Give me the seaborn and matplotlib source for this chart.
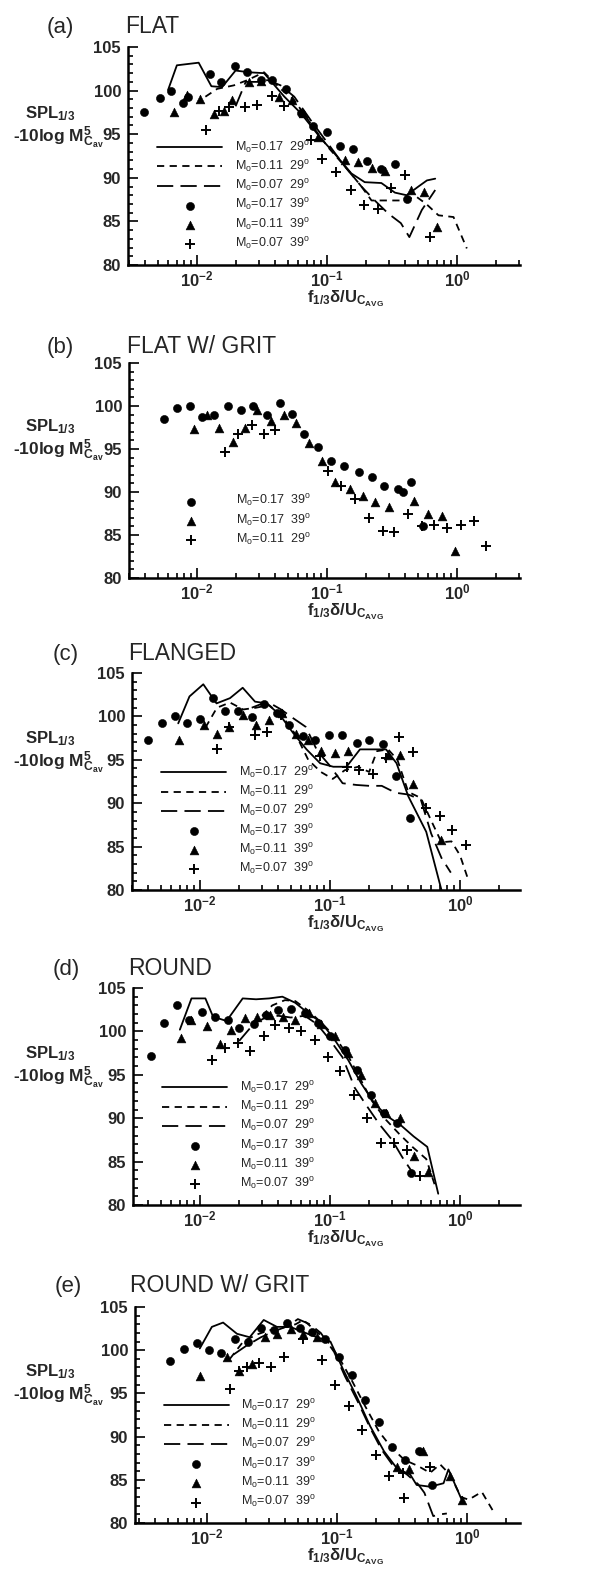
import matplotlib
matplotlib.use("Agg")
import matplotlib.pyplot as plt
import seaborn as sns
from matplotlib.ticker import LogLocator, MultipleLocator, NullFormatter

# ---- values ----
# (a) FLAT
a_solid_x = [0.0060, 0.0070, 0.0103, 0.0129, 0.0156, 0.0198, 0.0251, 0.0328, 0.047, 0.063, 0.090, 0.114, 0.154, 0.195, 0.262, 0.333, 0.41, 0.505, 0.587, 0.68]
a_solid_y = [100.1, 102.9, 103.2, 100.5, 100.4, 102.3, 102.1, 102.0, 99.3, 97.4, 94.5, 92.8, 90.5, 89.5, 89.4, 88.3, 88.0, 89.0, 89.7, 89.9]
a_short_x = [0.0116, 0.0143, 0.0192, 0.0244, 0.0328, 0.044, 0.056, 0.075, 0.102, 0.145, 0.184, 0.22, 0.296, 0.37, 0.49, 0.58, 0.72, 0.94, 1.19]
a_short_y = [99.3, 100.2, 100.6, 101.2, 102.1, 100.2, 98.9, 96.2, 93.5, 90.9, 89.0, 87.4, 87.4, 87.4, 87.8, 87.0, 85.7, 85.5, 81.9]
a_long_x = [0.0198, 0.0237, 0.029, 0.035, 0.044, 0.056, 0.075, 0.102, 0.137, 0.184, 0.233, 0.296, 0.37, 0.43, 0.536, 0.68]
a_long_y = [98.2, 101.0, 101.0, 101.2, 100.6, 99.3, 96.6, 93.9, 91.3, 89.0, 87.4, 85.9, 84.8, 83.2, 86.3, 88.6]
a_circ_x = [0.0039, 0.0052, 0.0063, 0.0078, 0.0086, 0.0125, 0.0153, 0.0196, 0.0244, 0.031, 0.038, 0.048, 0.063, 0.078, 0.1, 0.125, 0.159, 0.204, 0.262, 0.333, 0.41]
a_circ_y = [97.6, 99.2, 100.0, 98.6, 99.3, 101.9, 101.0, 102.8, 102.1, 101.2, 101.2, 100.2, 97.4, 95.9, 95.3, 93.7, 93.3, 91.9, 91.0, 91.6, 87.6]
a_tri_x = [0.0067, 0.0084, 0.0106, 0.0135, 0.0161, 0.0187, 0.0250, 0.0309, 0.043, 0.054, 0.065, 0.085, 0.137, 0.172, 0.22, 0.278, 0.445, 0.56, 0.70]
a_tri_y = [97.6, 99.5, 99.0, 97.3, 97.7, 98.9, 101.0, 101.1, 99.3, 98.9, 97.4, 94.7, 92.0, 91.8, 91.1, 90.8, 88.6, 88.4, 84.4]
a_plus_x = [0.0117, 0.0147, 0.0176, 0.0236, 0.029, 0.038, 0.0463, 0.075, 0.091, 0.117, 0.152, 0.192, 0.245, 0.31, 0.40, 0.62]
a_plus_y = [95.5, 97.7, 98.1, 98.1, 98.4, 99.4, 98.2, 94.3, 92.2, 90.7, 88.6, 86.9, 86.4, 88.8, 90.3, 83.2]

# (b) FLAT W/ GRIT
b_circ_x = [0.0056, 0.0070, 0.0088, 0.0109, 0.0136, 0.0173, 0.0217, 0.0272, 0.0344, 0.0435, 0.054, 0.0667, 0.0853, 0.108, 0.136, 0.175, 0.222, 0.276, 0.349, 0.382, 0.442, 0.55]
b_circ_y = [98.5, 99.8, 100.0, 98.7, 98.9, 100.0, 99.5, 100.0, 99.0, 100.3, 99.1, 96.7, 95.2, 93.6, 93.0, 92.3, 91.8, 90.7, 90.3, 90.0, 91.2, 86.1]
b_tri_x = [0.0094, 0.0119, 0.0148, 0.0188, 0.0234, 0.0291, 0.0368, 0.0466, 0.0576, 0.0729, 0.092, 0.116, 0.149, 0.188, 0.235, 0.30, 0.47, 0.60, 0.76, 0.96]
b_tri_y = [97.3, 98.9, 97.4, 95.8, 97.5, 99.5, 98.3, 99.0, 98.0, 95.7, 93.6, 91.2, 90.3, 89.5, 88.8, 88.3, 88.9, 87.5, 87.2, 83.1]
b_plus_x = [0.0165, 0.0205, 0.0264, 0.033, 0.040, 0.101, 0.128, 0.165, 0.21, 0.27, 0.33, 0.42, 0.54, 0.66, 0.84, 1.07, 1.34, 1.67]
b_plus_y = [94.7, 96.7, 97.8, 96.8, 97.2, 92.4, 90.7, 89.2, 87.0, 85.5, 85.3, 87.5, 86.0, 86.2, 85.8, 86.2, 86.6, 83.7]

# (c) FLANGED
c_solid_x = [0.0068, 0.0083, 0.0106, 0.0134, 0.0170, 0.0213, 0.0265, 0.0326, 0.041, 0.052, 0.066, 0.084, 0.106, 0.134, 0.17, 0.21, 0.27, 0.325, 0.40, 0.55, 0.72]
c_solid_y = [99.2, 102.3, 103.7, 101.5, 102.1, 103.3, 101.7, 101.5, 100.2, 98.1, 96.2, 94.6, 94.2, 94.2, 96.2, 96.2, 96.2, 94.6, 90.8, 86.7, 80.0]
c_short_x = [0.0110, 0.0135, 0.0170, 0.0215, 0.027, 0.034, 0.043, 0.055, 0.068, 0.085, 0.105, 0.13, 0.165, 0.20, 0.23, 0.28, 0.33, 0.40, 0.50, 0.60, 0.72, 0.86, 1.0, 1.15]
c_short_y = [98.7, 101.0, 101.6, 100.8, 101.0, 101.3, 100.0, 97.8, 95.0, 93.6, 92.8, 93.8, 94.2, 93.6, 96.0, 96.2, 95.0, 91.3, 90.6, 88.0, 85.5, 85.6, 84.0, 81.3]
c_long_x = [0.025, 0.033, 0.042, 0.052, 0.065, 0.08, 0.10, 0.125, 0.16, 0.20, 0.25, 0.32, 0.40, 0.50, 0.60, 0.72, 0.85]
c_long_y = [101.0, 101.7, 100.8, 99.8, 98.8, 96.0, 94.3, 92.3, 92.1, 92.0, 92.0, 91.2, 91.0, 90.4, 86.5, 83.7, 82.0]
c_circ_x = [0.0040, 0.0051, 0.0064, 0.0080, 0.010, 0.0127, 0.0156, 0.0197, 0.0249, 0.0313, 0.039, 0.0487, 0.0616, 0.0767, 0.099, 0.124, 0.160, 0.199, 0.254, 0.322, 0.41]
c_circ_y = [97.3, 99.2, 100.1, 99.2, 99.7, 102.1, 100.6, 100.6, 99.9, 101.4, 100.4, 99.0, 97.7, 97.3, 97.9, 97.9, 96.9, 97.3, 96.8, 93.1, 88.3]
c_tri_x = [0.0069, 0.0107, 0.0134, 0.0168, 0.0213, 0.0270, 0.034, 0.043, 0.055, 0.068, 0.086, 0.109, 0.138, 0.28, 0.345, 0.435, 0.71]
c_tri_y = [97.3, 99.0, 98.0, 98.8, 100.2, 99.0, 99.6, 100.4, 98.0, 97.3, 96.0, 95.8, 96.0, 95.6, 95.6, 92.2, 85.8]
c_plus_x = [0.0134, 0.0168, 0.0265, 0.033, 0.042, 0.084, 0.134, 0.167, 0.214, 0.27, 0.34, 0.435, 0.55, 0.70, 0.87, 1.11]
c_plus_y = [96.2, 98.8, 97.9, 98.2, 100.2, 95.4, 94.2, 93.8, 93.4, 95.2, 97.6, 95.9, 89.4, 88.5, 86.9, 85.2]

# (d) ROUND
d_solid_x = [0.0070, 0.0086, 0.011, 0.0126, 0.016, 0.0213, 0.027, 0.034, 0.043, 0.054, 0.068, 0.086, 0.109, 0.138, 0.174, 0.22, 0.277, 0.35, 0.44, 0.56, 0.68]
d_solid_y = [100.2, 103.8, 103.8, 101.7, 101.2, 103.8, 103.7, 103.8, 104.0, 103.3, 102.1, 101.0, 99.0, 96.7, 94.0, 91.7, 90.2, 89.2, 87.9, 86.7, 81.3]
d_short_x = [0.03, 0.036, 0.045, 0.054, 0.068, 0.086, 0.11, 0.14, 0.17, 0.21, 0.27, 0.34, 0.43, 0.55, 0.65]
d_short_y = [101.8, 103.0, 103.6, 103.5, 102.4, 101.0, 99.3, 97.0, 94.6, 92.0, 89.8, 88.2, 86.7, 85.3, 82.0]
d_long_x = [0.02, 0.026, 0.032, 0.04, 0.05, 0.064, 0.08, 0.10, 0.125, 0.155, 0.19, 0.24, 0.30, 0.36, 0.42]
d_long_y = [98.9, 100.9, 101.6, 101.8, 101.6, 101.8, 100.8, 99.0, 97.0, 93.5, 91.5, 89.3, 87.5, 85.5, 84.0]
d_circ_x = [0.0042, 0.0053, 0.0067, 0.0083, 0.0103, 0.013, 0.0164, 0.020, 0.026, 0.032, 0.040, 0.050, 0.064, 0.081, 0.10, 0.13, 0.162, 0.205, 0.26, 0.33, 0.42]
d_circ_y = [97.2, 101.0, 103.0, 101.3, 102.2, 101.7, 101.3, 100.4, 100.8, 101.9, 102.5, 102.6, 102.1, 101.0, 99.5, 97.9, 95.5, 92.7, 90.6, 89.4, 83.7]
d_tri_x = [0.0072, 0.0085, 0.0114, 0.0142, 0.0174, 0.022, 0.0274, 0.0346, 0.0436, 0.0541, 0.0684, 0.086, 0.109, 0.138, 0.174, 0.22, 0.27, 0.345, 0.44, 0.57]
d_tri_y = [99.2, 101.3, 100.6, 98.5, 100.2, 101.5, 101.7, 101.9, 101.7, 101.3, 102.1, 100.8, 99.5, 97.5, 95.0, 91.7, 90.6, 90.0, 85.6, 83.8]
d_plus_x = [0.0123, 0.0155, 0.0195, 0.0243, 0.0308, 0.038, 0.048, 0.060, 0.076, 0.096, 0.119, 0.153, 0.193, 0.246, 0.31, 0.39, 0.49]
d_plus_y = [96.7, 98.1, 98.7, 97.7, 99.5, 100.7, 100.4, 100.0, 99.0, 97.1, 95.4, 92.7, 90.0, 87.1, 87.1, 86.3, 83.3]

# (e) ROUND W/ GRIT
e_solid_x = [0.0088, 0.0109, 0.0133, 0.0170, 0.0213, 0.0273, 0.0345, 0.0437, 0.055, 0.070, 0.089, 0.112, 0.142, 0.18, 0.23, 0.29, 0.366, 0.41, 0.52, 0.66, 0.72, 0.91]
e_solid_y = [100.2, 102.7, 103.2, 101.9, 101.5, 103.5, 102.7, 102.7, 102.1, 101.5, 101.0, 97.7, 94.6, 91.2, 88.3, 86.3, 85.6, 84.4, 84.2, 84.6, 86.2, 82.7]
e_short_x = [0.015, 0.019, 0.024, 0.030, 0.038, 0.048, 0.055, 0.068, 0.085, 0.105, 0.13, 0.165, 0.21, 0.26, 0.33, 0.42, 0.52, 0.62, 0.74, 0.9, 1.03, 1.3, 1.6]
e_short_y = [99.0, 101.0, 101.8, 102.3, 102.6, 103.0, 103.5, 102.3, 101.0, 99.0, 96.5, 93.5, 90.6, 88.8, 87.3, 86.6, 85.8, 86.8, 85.6, 83.0, 82.7, 83.6, 81.3]
e_long_x = [0.016, 0.020, 0.026, 0.033, 0.042, 0.05, 0.062, 0.075, 0.095, 0.115, 0.145, 0.18, 0.22, 0.28, 0.34, 0.42, 0.47, 0.55, 0.62, 0.70]
e_long_y = [99.5, 100.5, 101.5, 102.2, 102.8, 103.6, 103.0, 102.0, 99.8, 97.0, 94.0, 91.0, 88.5, 86.3, 85.7, 84.5, 83.5, 80.8, 81.0, 81.1]
e_circ_x = [0.0052, 0.0066, 0.0084, 0.0104, 0.0128, 0.0163, 0.0207, 0.026, 0.033, 0.041, 0.052, 0.064, 0.081, 0.103, 0.130, 0.165, 0.21, 0.265, 0.335, 0.43, 0.54]
e_circ_y = [98.7, 100.1, 100.8, 100.0, 99.7, 101.3, 101.0, 102.6, 102.3, 103.2, 102.6, 102.1, 101.3, 99.2, 97.1, 94.2, 91.7, 88.8, 87.3, 88.3, 84.4]
e_tri_x = [0.0089, 0.0142, 0.0175, 0.0222, 0.028, 0.0345, 0.044, 0.055, 0.07, 0.29, 0.36, 0.46, 0.74, 0.92]
e_tri_y = [97.0, 99.2, 97.6, 98.4, 101.5, 101.9, 102.4, 101.9, 101.5, 86.5, 86.2, 88.3, 85.4, 82.7]
e_plus_x = [0.0151, 0.0175, 0.0203, 0.025, 0.031, 0.039, 0.055, 0.077, 0.097, 0.123, 0.156, 0.20, 0.25, 0.32, 0.33, 0.52]
e_plus_y = [95.5, 97.6, 98.1, 98.5, 98.0, 99.2, 101.3, 98.9, 96.0, 93.5, 90.8, 87.9, 85.4, 85.8, 82.9, 86.5]

PANEL_TAGS = ["(a)", "(b)", "(c)", "(d)", "(e)"]
PANEL_NAMES = ["FLAT", "FLAT W/ GRIT", "FLANGED", "ROUND", "ROUND W/ GRIT"]
LABELS_6 = ["M$_o$=0.17  29$^o$", "M$_o$=0.11  29$^o$", "M$_o$=0.07  29$^o$",
            "M$_o$=0.17  39$^o$", "M$_o$=0.11  39$^o$", "M$_o$=0.07  39$^o$"]
LABELS_B = ["M$_o$=0.17  39$^o$", "M$_o$=0.17  39$^o$", "M$_o$=0.11  29$^o$"]

panels = [
    ([(a_solid_x, a_solid_y), (a_short_x, a_short_y), (a_long_x, a_long_y)],
     [(a_circ_x, a_circ_y), (a_tri_x, a_tri_y), (a_plus_x, a_plus_y)], LABELS_6),
    ([], [(b_circ_x, b_circ_y), (b_tri_x, b_tri_y), (b_plus_x, b_plus_y)], LABELS_B),
    ([(c_solid_x, c_solid_y), (c_short_x, c_short_y), (c_long_x, c_long_y)],
     [(c_circ_x, c_circ_y), (c_tri_x, c_tri_y), (c_plus_x, c_plus_y)], LABELS_6),
    ([(d_solid_x, d_solid_y), (d_short_x, d_short_y), (d_long_x, d_long_y)],
     [(d_circ_x, d_circ_y), (d_tri_x, d_tri_y), (d_plus_x, d_plus_y)], LABELS_6),
    ([(e_solid_x, e_solid_y), (e_short_x, e_short_y), (e_long_x, e_long_y)],
     [(e_circ_x, e_circ_y), (e_tri_x, e_tri_y), (e_plus_x, e_plus_y)], LABELS_6),
]

# ---- style ----
sns.set_theme(style="ticks")
plt.rcParams["font.family"] = ["Liberation Sans", "DejaVu Sans"]
plt.rcParams["font.weight"] = "bold"
plt.rcParams["mathtext.fontset"] = "custom"
plt.rcParams["mathtext.rm"] = "Liberation Sans"
plt.rcParams["mathtext.default"] = "regular"

LINE_STYLES = ["-", (0, (4, 3)), (0, (9, 4))]
MARKERS = ["o", "^", "+"]
MARKER_SIZES = [34, 40, 55]

W, H = 596, 1574
ax_left = [128, 129, 132, 133, 135]      # px of the y axis
ax_top = [47, 363, 673, 988, 1307]
ax_bot = [265, 578, 890, 1205, 1523]
dec_m2 = [197, 197, 200, 200, 207]       # px of 10^-2
ax_right = 520
px_dec = 130.0
title_base = [33, 353, 660, 975, 1292]
tag_x = [47, 47, 53, 53, 55]
name_x = [125, 127, 128, 128, 130]
leg_y = [0.06, 0.14, 0.06, 0.06, 0.06]

fig = plt.figure(figsize=(W / 100, H / 100), dpi=100)

for i, (lines, marks, labels) in enumerate(panels):
    l, t, b = ax_left[i], ax_top[i], ax_bot[i]
    wpx, hpx = ax_right - l, b - t
    ax = fig.add_axes([l / W, 1 - b / H, wpx / W, hpx / H])

    for (x, y), ls, lab in zip(lines, LINE_STYLES, labels[:3]):
        sns.lineplot(x=x, y=y, ax=ax, color="black", lw=1.3, linestyle=ls,
                     sort=False, estimator=None, label=lab)
    mark_labels = labels[3:] if lines else labels
    for (x, y), mk, sz, lab in zip(marks, MARKERS, MARKER_SIZES, mark_labels):
        if mk == "+":
            sns.scatterplot(x=x, y=y, ax=ax, marker=mk, color="black", s=sz,
                            linewidth=1.4, label=lab)
        else:
            sns.scatterplot(x=x, y=y, ax=ax, marker=mk, color="black", s=sz,
                            edgecolor="black", linewidth=0.4, label=lab)

    ax.set_xscale("log")
    ax.set_xlim(10 ** (-2 - (dec_m2[i] - l) / px_dec), 10 ** (-2 + (ax_right - dec_m2[i]) / px_dec))
    ax.set_ylim(80, 105)
    ax.xaxis.set_major_locator(LogLocator(base=10, numticks=10))
    ax.xaxis.set_minor_locator(LogLocator(base=10, subs=range(2, 10), numticks=20))
    ax.xaxis.set_minor_formatter(NullFormatter())
    ax.yaxis.set_major_locator(MultipleLocator(5))
    ax.yaxis.set_minor_locator(MultipleLocator(1))
    ax.tick_params(which="both", direction="in", color="black", labelsize=12, width=1.2)
    ax.tick_params(which="major", length=7)
    ax.tick_params(which="minor", length=3.5)
    ax.tick_params(axis="x", pad=3)
    ax.tick_params(axis="y", pad=5)
    sns.despine(ax=ax)
    for s in ["left", "bottom"]:
        ax.spines[s].set_linewidth(1.8)
        ax.spines[s].set_color("black")
    ax.set_xlabel("")
    ax.set_ylabel("")

    ax.legend(loc="lower left", bbox_to_anchor=(0.075, leg_y[i]), frameon=False,
              handlelength=5.2, handletextpad=1.0, labelspacing=0.25,
              borderaxespad=0, borderpad=0, prop={"weight": "normal", "size": 9})

    # y label, two lines left of the axis
    ax.text((25 - l) / wpx, 147 / hpx, "SPL$_{1/3}$",
            transform=ax.transAxes, ha="left", va="baseline", fontsize=12)
    ax.text((13 - l) / wpx, 123 / hpx, "-10log M$^5_{C_{av}}$",
            transform=ax.transAxes, ha="left", va="baseline", fontsize=12.5)
    # x label
    ax.text((307 - l) / wpx, -37 / hpx, "f$_{1/3}$δ/U$_{C_{AVG}}$",
            transform=ax.transAxes, ha="left", va="baseline", fontsize=12)

    fig.text(tag_x[i] / W, 1 - title_base[i] / H, PANEL_TAGS[i], fontsize=16,
             fontweight="normal", va="baseline")
    fig.text(name_x[i] / W, 1 - title_base[i] / H, PANEL_NAMES[i], fontsize=16.5,
             fontweight="normal", va="baseline")

fig.savefig("out.png", dpi=100)
